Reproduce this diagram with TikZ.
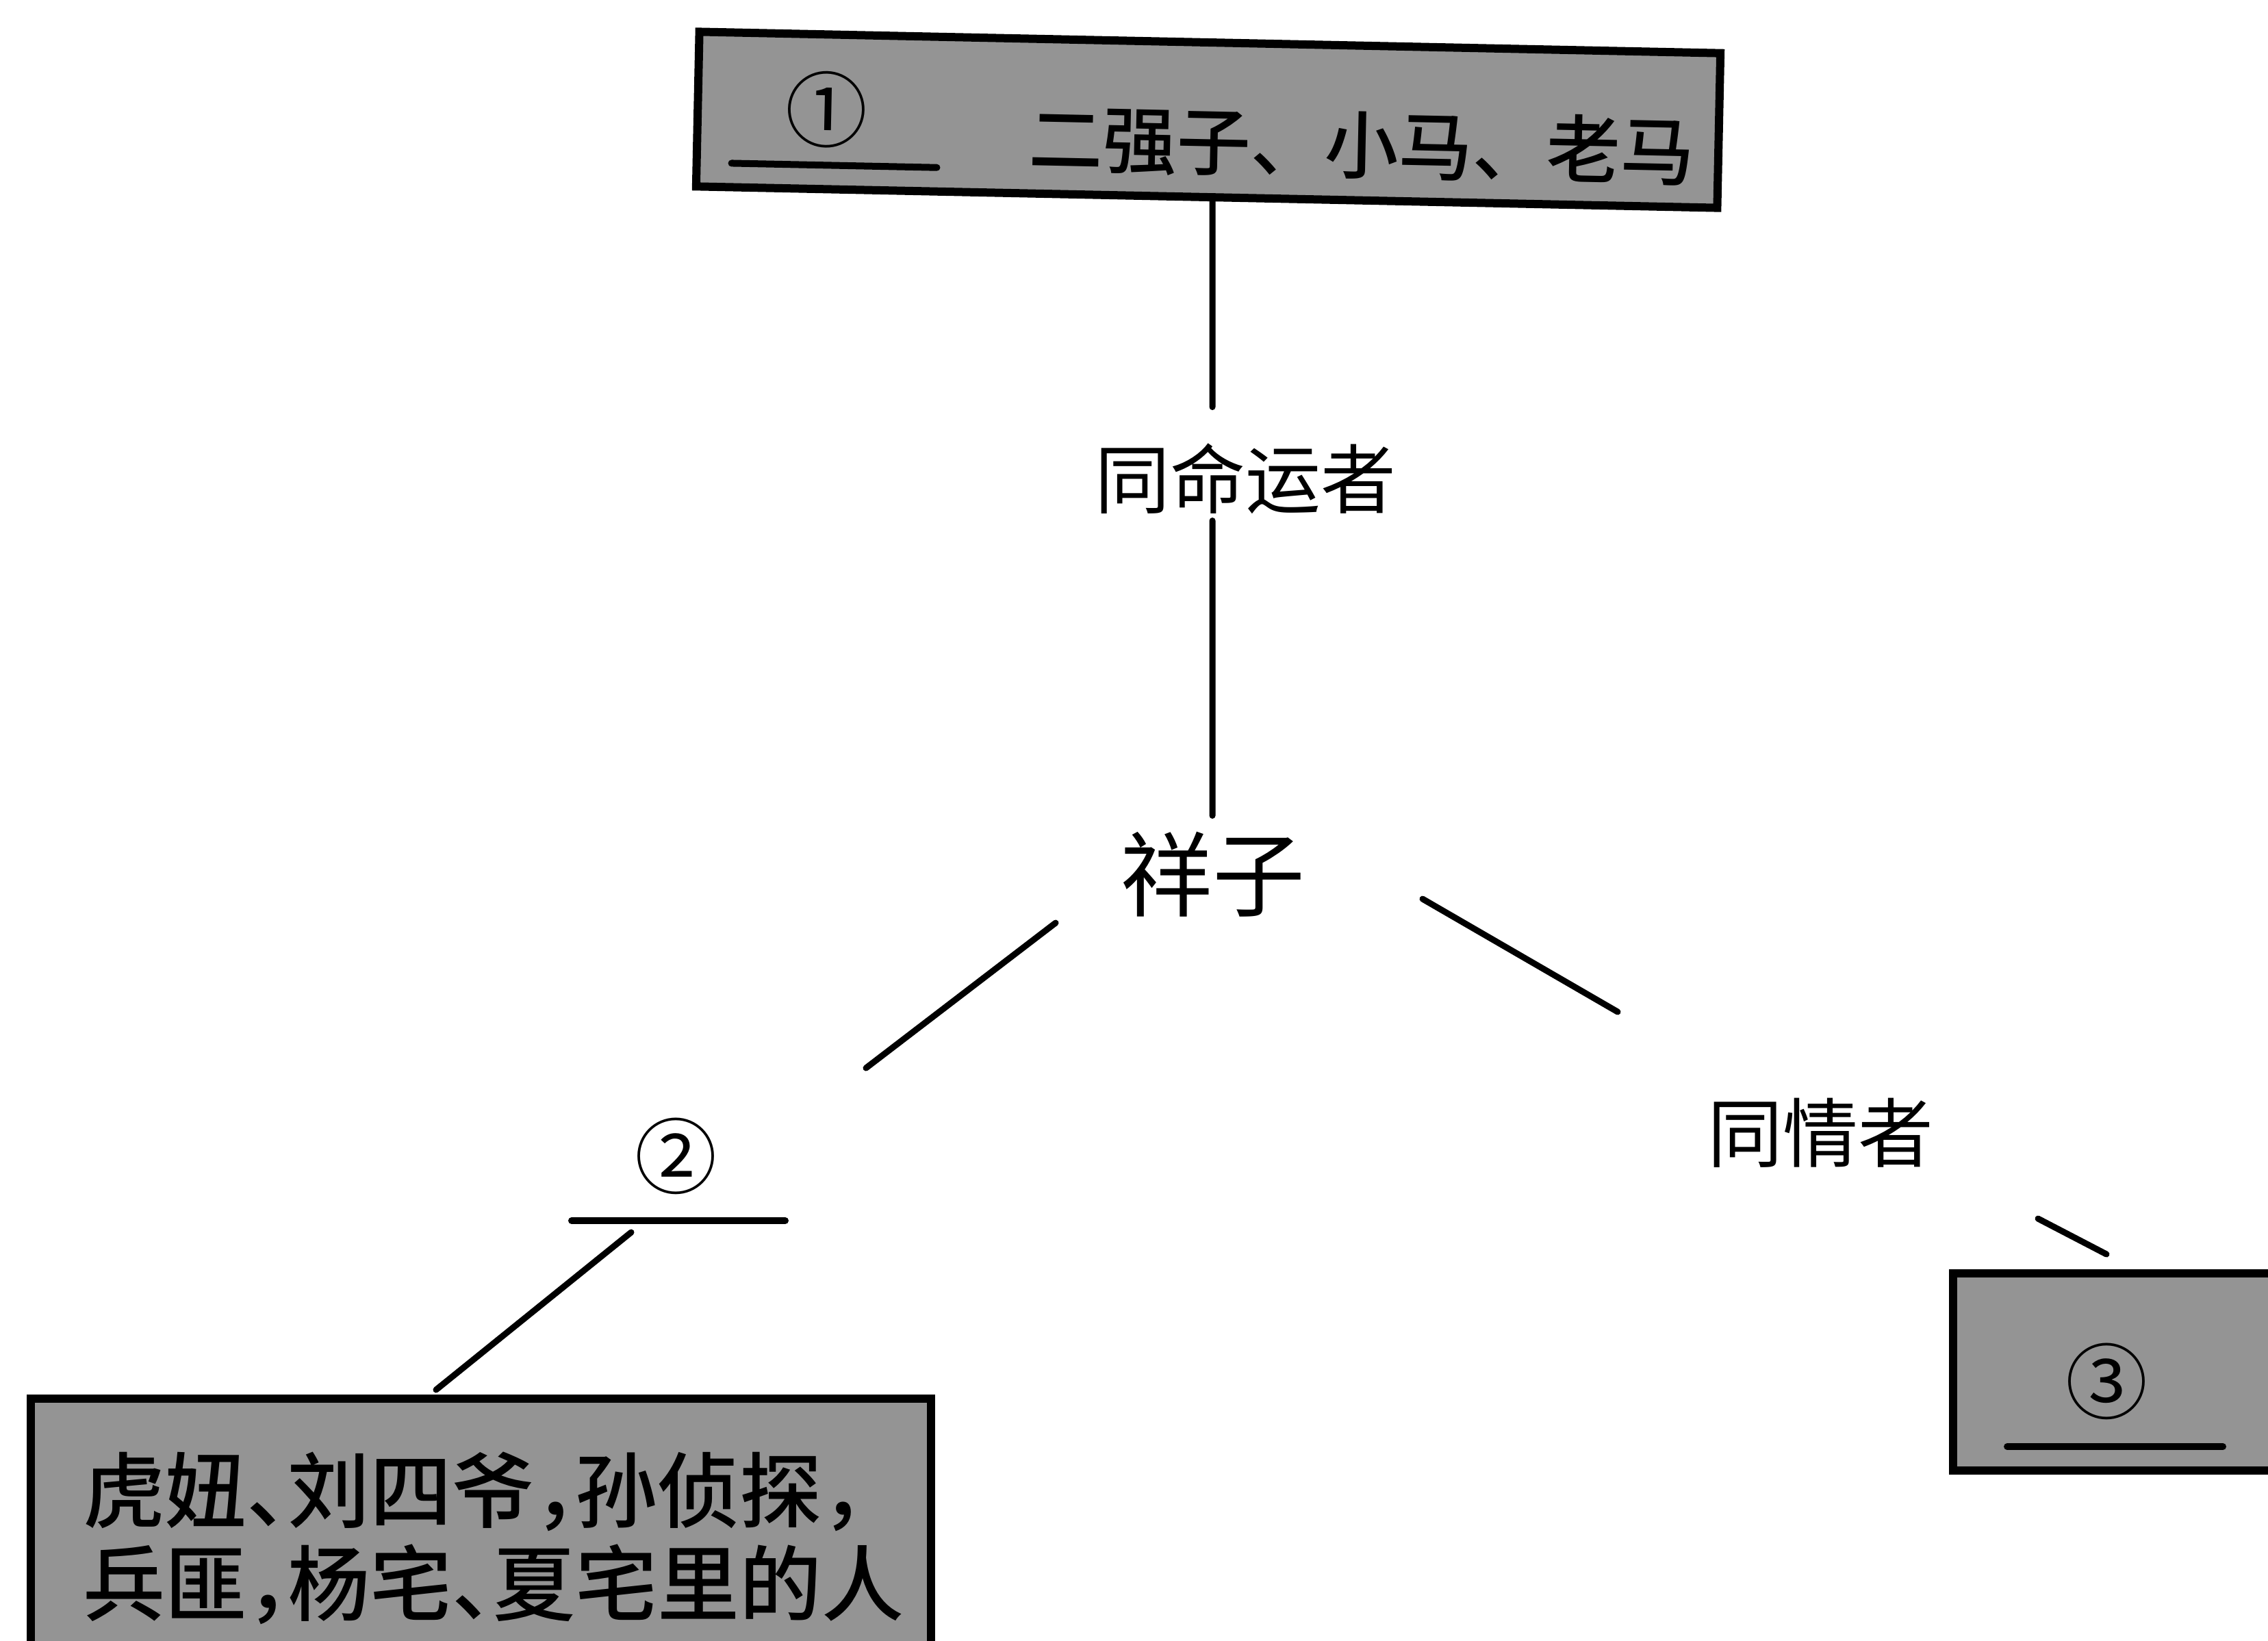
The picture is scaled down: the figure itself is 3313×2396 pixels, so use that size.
\documentclass[tikz,border=0pt]{standalone}
\usepackage{fontspec}
\newfontfamily\cjk{Noto Sans CJK SC}
\newfontfamily\cjkm{Noto Sans CJK SC Medium}
\newfontfamily\cjkh[RawFeature={+halt}]{Noto Sans CJK SC Medium}
\definecolor{boxgray}{RGB}{148,148,148}
\tikzset{
  every node/.style={inner sep=0pt, outer sep=0pt},
  graybox/.style={draw=black, line width=1.2pt, fill=boxgray},
  conn/.style={line width=0.9pt, line cap=round},
  blankline/.style={line width=1.0pt, line cap=round},
  lbl/.style={font=\cjk\fontsize{11pt}{13pt}\selectfont},
  numlbl/.style={font=\cjk\fontsize{12pt}{13pt}\selectfont},
}
\begin{document}
\begin{tikzpicture}[x=0.1pt,y=-0.1pt]
\useasboundingbox (0,0) rectangle (3313,2396);
\clip (0,0) rectangle (3313,2396);
\fill[white] (0,0) rectangle (3313,2396);

% top box (slightly tilted as in the scan)
\begin{scope}[rotate around={-1.2:(1765,175)}, transform shape]
  \node[graybox, minimum width=149.2pt, minimum height=22.6pt] (top) at (1765,175) {};
  \node[numlbl] (n1) at (1207,172) {①};
  \draw[blankline] (1070,253) -- (1370,253);
  \node[font=\cjkm\fontsize{10.8pt}{12pt}\selectfont] (t1) at (1990,207) {二强子、小马、老马};
\end{scope}

% labels
\node[lbl] (lab1) at (1819,699) {同命运者};
\node[font=\cjk\fontsize{13.5pt}{15pt}\selectfont] (xz) at (1771,1277) {祥子};
\node[lbl] (tq) at (2659,1655) {同情者};

% blank 2
\node[numlbl] (c2) at (987,1689) {②};
\draw[blankline] (835,1783) -- (1147,1783);

% left box
\node[graybox, anchor=north west, minimum width=131.5pt, minimum height=45pt] (lb) at (45,2043) {};
\node[font=\cjkh\fontsize{12pt}{13.6pt}\selectfont, anchor=west, align=left] (lbt) at (121,2247)
  {虎妞、刘四爷，孙侦探，\\兵匪，杨宅、夏宅里的人};

% right box
\node[graybox, anchor=north west, minimum width=56pt, minimum height=28.8pt] (rb) at (2853,1860) {};
\node[numlbl] (c3) at (3077,2018) {③};
\draw[blankline] (2932,2113) -- (3247,2113);

% connectors
\draw[conn] (top.south -| xz.north) -- ([xshift=-4.8pt,yshift=5.3pt]lab1.north);
\draw[conn] ([xshift=-4.8pt,yshift=-1pt]lab1.south) -- ([yshift=2.35pt]xz.north);
\draw[conn] ([xshift=-22.9pt,yshift=-7.1pt]xz.center) -- ([xshift=27.8pt,yshift=12.9pt]c2.center);
\draw[conn] ([xshift=30.7pt,yshift=-3.6pt]xz.center) -- ([xshift=-29.6pt,yshift=17.7pt]tq.center);
\draw[conn] ([xshift=31.8pt,yshift=-12.5pt]tq.center) -- ([xshift=-5.6pt,yshift=2.8pt]rb.north);
\draw[conn] ([xshift=-6.5pt,yshift=-11.1pt]c2.center) -- ([xshift=-6.55pt,yshift=1.3pt]lb.north);
\end{tikzpicture}
\end{document}
